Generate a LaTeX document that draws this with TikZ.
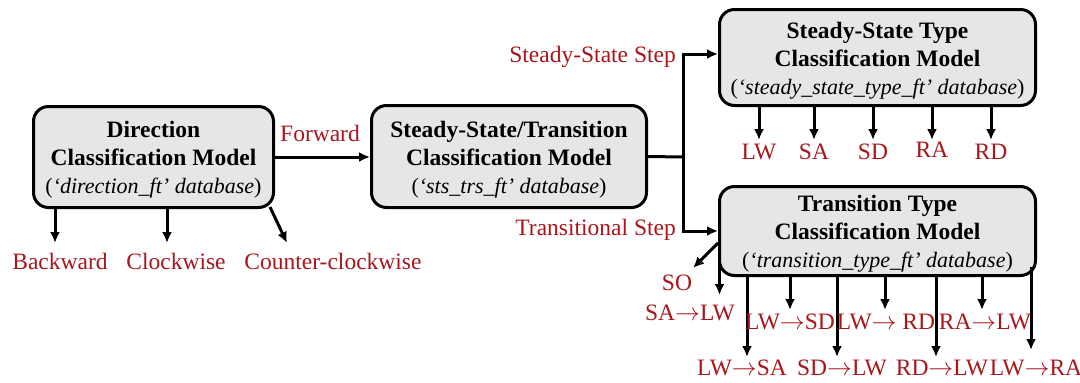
\documentclass[tikz,border=0pt]{standalone}
\usepackage{fontspec}
\setmainfont{Liberation Serif}
\usetikzlibrary{arrows.meta}
\definecolor{lblred}{RGB}{168,22,28}
\definecolor{boxgray}{RGB}{230,230,230}
\newcommand{\myarr}{\ensuremath{\rightarrow}}
\begin{document}
\begin{tikzpicture}[x=1pt,y=-1pt,
  model/.style={draw=black, line width=3pt, fill=boxgray, rounded corners=15pt, inner sep=0pt},
  modeltext/.style={inner sep=0pt, align=center, font=\fontsize{23.5}{28}\selectfont},
  lbl/.style={text=lblred, font=\fontsize{23.5}{26}\selectfont, inner sep=0pt},
  arr/.style={line width=3pt, -{Latex[length=11pt,width=10pt]}},
  ln/.style={line width=3pt},
]
\useasboundingbox (0,0) rectangle (1080,383);

% models
\node[model, minimum width=240pt, minimum height=101pt] (b1) at (153.5,157) {};
\node[modeltext] (b1t) at ([yshift=-3pt]b1.center)
  {\textbf{Direction}\\\textbf{Classification Model}\\{\fontsize{22}{28}\selectfont(\textit{‘direction\_ft’ database})}};
\node[model, minimum width=275pt, minimum height=102pt] (b2) at (509,156.5) {};
\node[modeltext] (b2t) at ([yshift=-3pt]b2.center)
  {\textbf{Steady-State/Transition}\\\textbf{Classification Model}\\{\fontsize{22}{28}\selectfont(\textit{‘sts\_trs\_ft’ database})}};
\node[model, minimum width=316pt, minimum height=96pt] (b3) at (877.5,57.5) {};
\node[modeltext] (b3t) at ([yshift=-3pt]b3.center)
  {\textbf{Steady-State Type}\\\textbf{Classification Model}\\{\fontsize{22}{28}\selectfont(\textit{‘steady\_state\_type\_ft’ database})}};
\node[model, minimum width=316pt, minimum height=89pt] (b4) at (877.5,231) {};
\node[modeltext] (b4t) at ([yshift=-3pt]b4.center)
  {\textbf{Transition Type}\\\textbf{Classification Model}\\{\fontsize{22}{28}\selectfont(\textit{‘transition\_type\_ft’ database})}};

% main flow
\node[lbl] (fw) at (320,133) {Forward};
\draw[arr] (b1.east) -- (b1.east -| b2.west);
\coordinate (j) at (683,157);
\draw[ln] (b2.east) -- (j);
\draw[arr] (j) |- ([yshift=3.5pt]b3.west);
\draw[arr] (j) |- (b4.west);
\node[lbl, anchor=east] (ssl) at (676,57) {Steady-State Step};
\node[lbl, anchor=east] (tsl) at (676,230) {Transitional Step};

% direction outputs
\node[lbl] (bw) at (60,261) {Backward};
\node[lbl] (cw) at (176,261) {Clockwise};
\node[lbl] (ccw) at (333,261) {Counter-clockwise};
\coordinate (bwe) at (55,243);
\coordinate (cwe) at (167,243);
\coordinate (cce) at (287,243);
\draw[arr] (b1.south -| bwe) -- (bwe);
\draw[arr] (b1.south -| cwe) -- (cwe);
\draw[arr] ([xshift=-5pt,yshift=2pt]b1.south east) -- (cce);

% steady-state outputs
\foreach \x/\t/\n/\ly in {759/LW/o1/152, 814/SA/o2/152, 873/SD/o3/152, 932/RA/o4/150, 991/RD/o5/152}{
  \node[lbl] (\n) at (\x,\ly) {\t};
  \coordinate (\n e) at (\x,140);
  \draw[arr] (b3.south -| \n e) -- (\n e);
}

% transition outputs
\node[lbl] (so) at (677,283) {SO};
\coordinate (soe) at (693,268);
\draw[arr] ([yshift=-12pt]b4.west) -- (soe);

\node[lbl] (t1) at (690,313) {SA\myarr LW};
\coordinate (t1s) at (719.5,262);
\coordinate (t1e) at (719.5,295);
\draw[arr] (t1s) -- (t1e);

\foreach \x/\t/\n/\lx/\ey/\ly in {747/LW\myarr SA/t2/742/357/368, 790/LW\myarr SD/t3/790/310/322,
   837/SD\myarr LW/t4/842/357/368, 885/LW\myarr\ RD/t5/886/310/322, 936/RD\myarr LW/t6/942/357/368,
   982/RA\myarr LW/t7/985/310/322}{
  \node[lbl] (\n) at (\lx,\ly) {\t};
  \coordinate (\n e) at (\x,\ey);
  \draw[arr] (b4.south -| \n e) -- (\n e);
}

\node[lbl] (t8) at (1036,368) {LW\myarr RA};
\coordinate (t8s) at (1031,267);
\coordinate (t8e) at (1031,350);
\draw[arr] (t8s) -- (t8e);
\end{tikzpicture}
\end{document}
